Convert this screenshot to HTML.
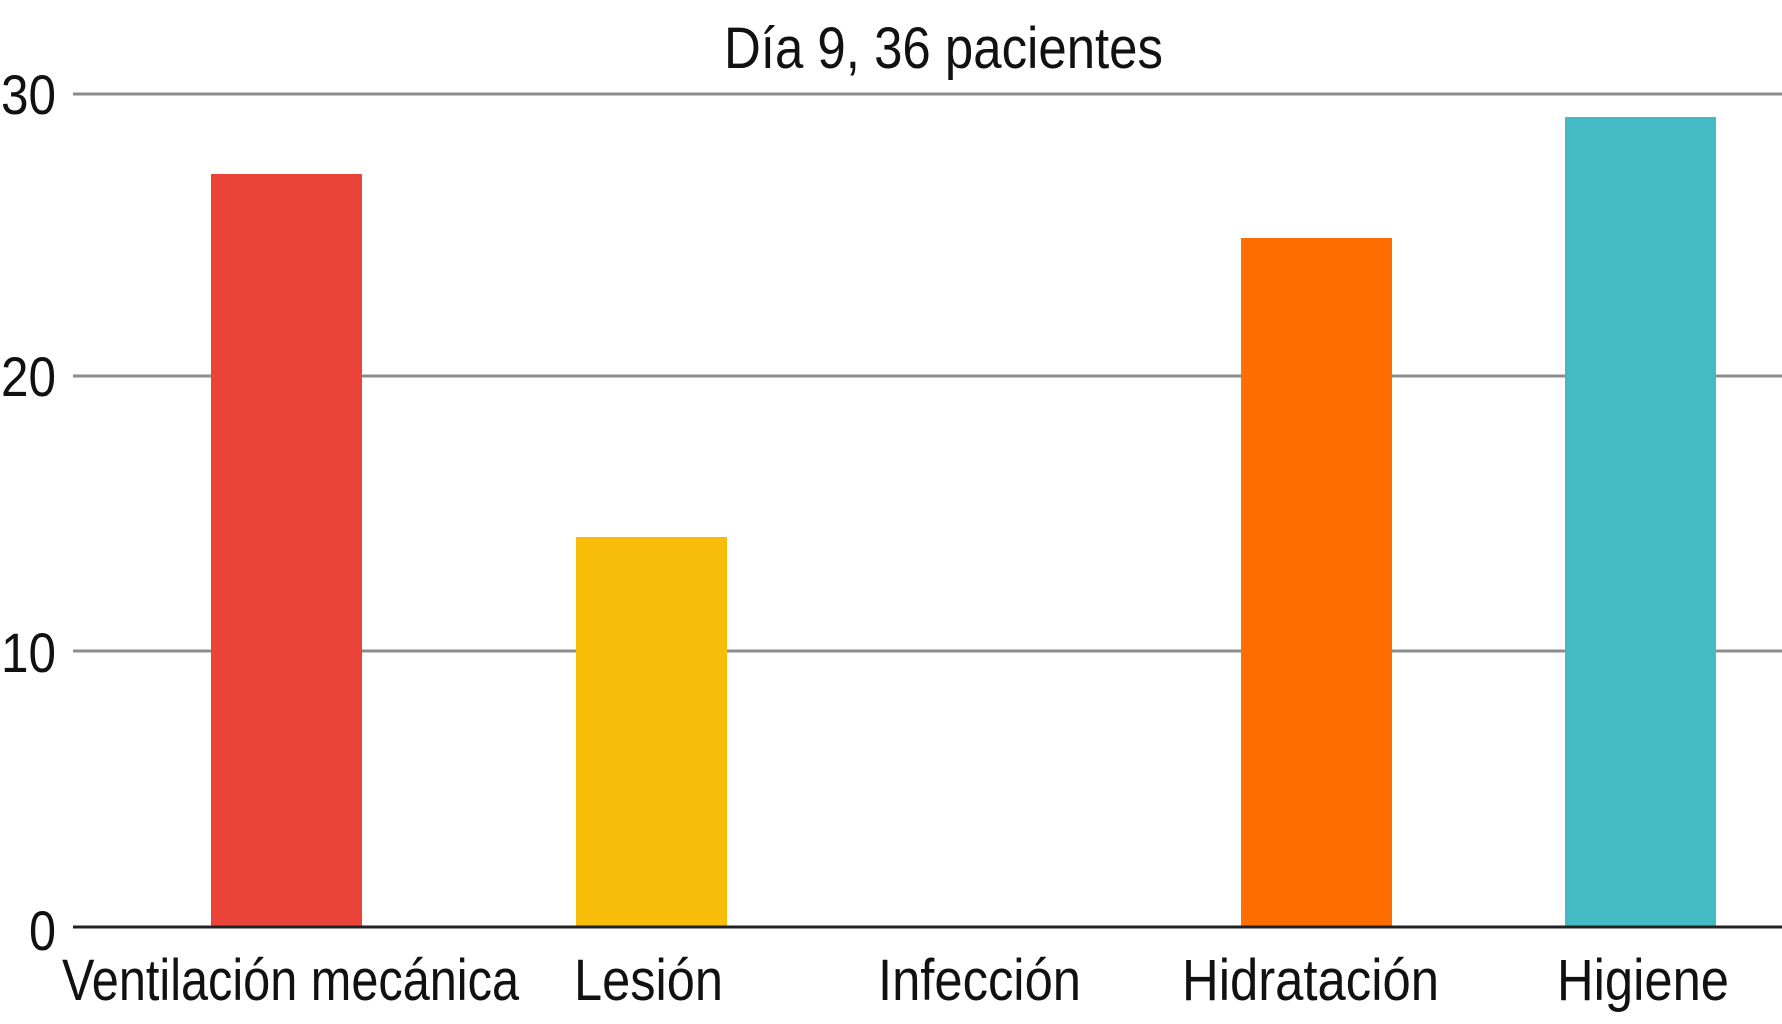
<!DOCTYPE html>
<html><head><meta charset="utf-8"><style>html,body{margin:0;padding:0;background:#fff;}svg{display:block}</style></head>
<body>
<svg width="1782" height="1024" viewBox="0 0 1782 1024" xmlns="http://www.w3.org/2000/svg" font-family="Liberation Sans, sans-serif" fill="#111">
<g stroke="#8c8c8c" stroke-width="3">
<line x1="73" y1="94" x2="1782" y2="94"/>
<line x1="73" y1="376" x2="1782" y2="376"/>
<line x1="73" y1="651" x2="1782" y2="651"/>
</g>
<rect x="211" y="174" width="151" height="753" fill="#e94437"/>
<rect x="576" y="537" width="151" height="390" fill="#f7bd08"/>
<rect x="1241" y="238" width="151" height="689" fill="#ff6e00"/>
<rect x="1565" y="117" width="151" height="810" fill="#44bac5"/>
<line x1="73" y1="927" x2="1782" y2="927" stroke="#222" stroke-width="3"/>
<g font-size="56" text-anchor="end">
<text x="56" y="114" textLength="55" lengthAdjust="spacingAndGlyphs">30</text>
<text x="56" y="396" textLength="55" lengthAdjust="spacingAndGlyphs">20</text>
<text x="56" y="672" textLength="55" lengthAdjust="spacingAndGlyphs">10</text>
<text x="56" y="950" textLength="27" lengthAdjust="spacingAndGlyphs">0</text>
</g>
<text x="724" y="68" font-size="58" textLength="439" lengthAdjust="spacingAndGlyphs">Día 9, 36 pacientes</text>
<g font-size="58">
<text x="62" y="1000" textLength="457" lengthAdjust="spacingAndGlyphs">Ventilación mecánica</text>
<text x="574" y="1000" textLength="149" lengthAdjust="spacingAndGlyphs">Lesión</text>
<text x="878" y="1000" textLength="203" lengthAdjust="spacingAndGlyphs">Infección</text>
<text x="1182" y="1000" textLength="257" lengthAdjust="spacingAndGlyphs">Hidratación</text>
<text x="1557" y="1000" textLength="172" lengthAdjust="spacingAndGlyphs">Higiene</text>
</g>
</svg>
</body></html>
